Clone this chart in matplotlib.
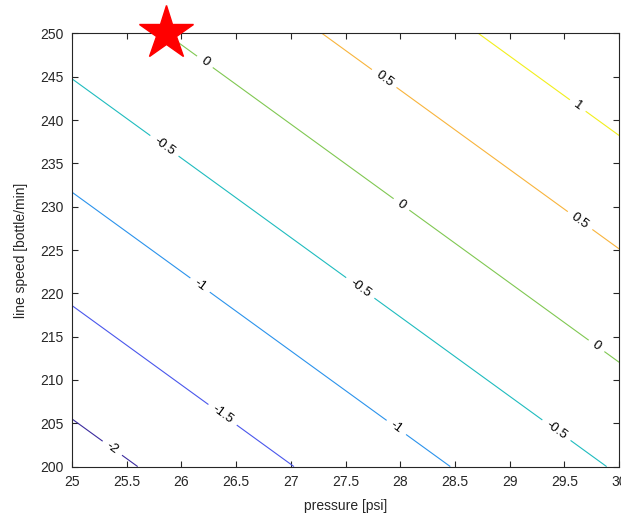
"""Contour plot of the fitted response over pressure and line speed."""

import matplotlib

matplotlib.use("Agg")
import matplotlib.pyplot as plt
import numpy as np

# response read at the corners of the design region (plane, so 2x2 is enough)
pressure = [25.0, 30.0]
line_speed = [200.0, 250.0]
response = [
    [-2.21, -0.46],  # speed 200
    [-0.30, 1.45],   # speed 250
]
levels = [-2.0, -1.5, -1.0, -0.5, 0.0, 0.5, 1.0]
level_colors = ["#3b2b9e", "#4a57ec", "#2b93ec", "#1fbcbf", "#80c852", "#f8b43c", "#f2ef1c"]

# optimum marker
best_pressure = 25.86
best_speed = 250.0

# where the inline labels sit (pressure, speed)
label_spots = [
    (26.23, 247.0), (28.03, 230.6), (29.82, 214.4),
    (25.86, 237.3), (27.65, 220.9), (29.45, 204.6),
    (26.19, 221.3), (27.98, 204.8),
    (26.40, 206.4),
    (25.39, 202.5),
    (27.87, 245.1), (29.66, 228.7),
    (29.64, 242.0),
]

TEXT_COLOR = "#262626"

plt.rcParams["font.family"] = ["Liberation Sans", "DejaVu Sans"]

figure = plt.figure(figsize=(6.21, 5.15), dpi=100)
axis = figure.add_axes([0.116, 0.094, 0.881, 0.841])

P, S = np.meshgrid(pressure, line_speed)
contours = axis.contour(P, S, np.array(response), levels=levels, colors=level_colors, linewidths=0.8)
axis.clabel(contours, manual=label_spots, inline=True, inline_spacing=6, fontsize=9.5, colors="black", fmt="%g")

axis.plot(best_pressure, best_speed, marker="*", color="red", markersize=41, clip_on=False, zorder=5)

axis.set_xlim(25, 30)
axis.set_ylim(200, 250)
axis.set_xticks(np.arange(25, 30.01, 0.5))
axis.set_yticks(np.arange(200, 250.01, 5))
axis.set_xticklabels([f"{v:g}" for v in np.arange(25, 30.01, 0.5)])
axis.tick_params(direction="in", length=4, width=0.8, top=True, right=True, labelsize=10, colors=TEXT_COLOR, pad=6)
for spine in axis.spines.values():
    spine.set_color(TEXT_COLOR)
    spine.set_linewidth(0.8)

axis.set_xlabel("pressure [psi]", fontsize=10, color=TEXT_COLOR, labelpad=7)
axis.set_ylabel("line speed [bottle/min]", fontsize=10, color=TEXT_COLOR, labelpad=9)

figure.savefig("out.png", dpi=100)
plt.close(figure)
